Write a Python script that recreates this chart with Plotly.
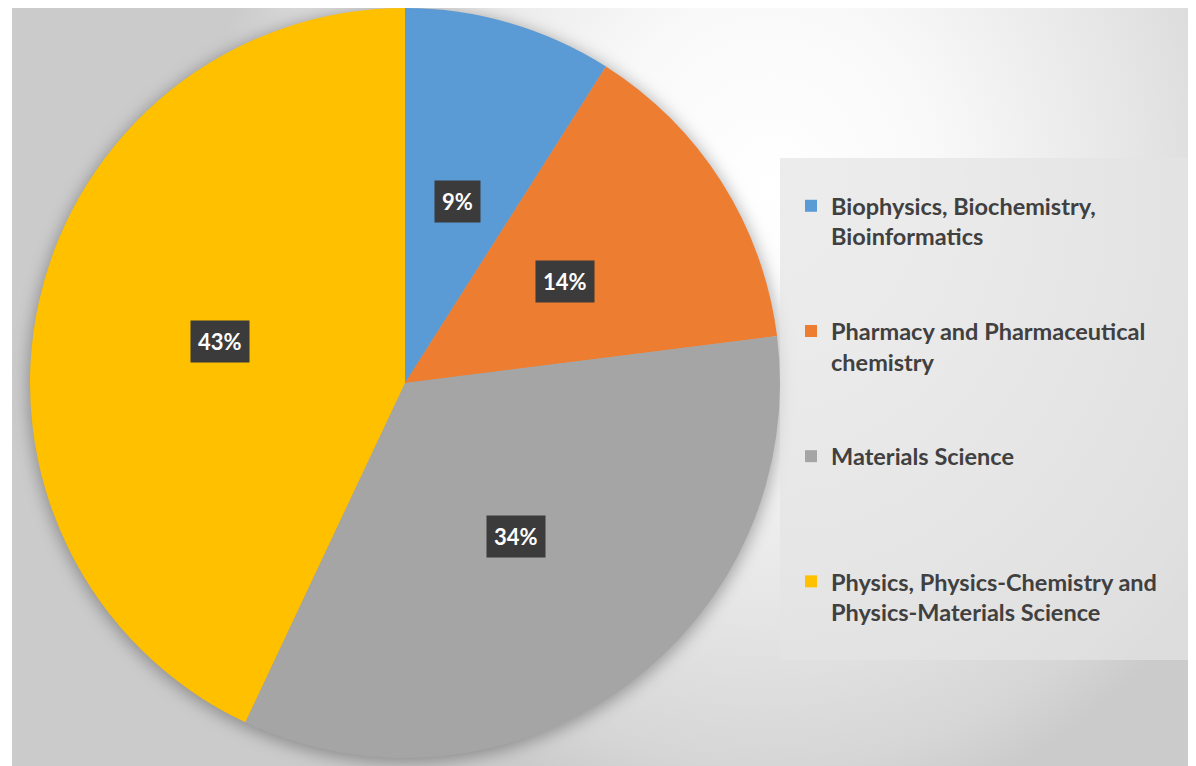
import base64
import math
import plotly.graph_objects as go

# ---- data ----
categories = [
    "Biophysics, Biochemistry,<br>Bioinformatics",
    "Pharmacy and Pharmaceutical<br>chemistry",
    "Materials Science",
    "Physics, Physics-Chemistry and<br>Physics-Materials Science",
]
values = [9, 14, 34, 43]
colors = ["#5B9BD5", "#ED7D31", "#A5A5A5", "#FFC000"]

# page is offset by the 8px body margin; work in page pixels and convert
OFF = 8
PW, PH = 1196, 766
W, H = PW - OFF, PH - OFF


def fx(px):
    return (px - OFF) / W


def fy(py):
    return 1 - (py - OFF) / H


# pie geometry (page pixels); top limited by the page margin
CX, CY, R = 405, 383, 375

# background (elliptical radial gradient + soft pie shadow), decoration only
bx0, by0 = 12, 8
bw, bh = PW - bx0, PH - by0
gcx, gcy = 770 - bx0, 190 - by0
svg = f'''<svg xmlns="http://www.w3.org/2000/svg" width="{bw}" height="{bh}" viewBox="0 0 {bw} {bh}">
<defs>
<radialGradient id="g" gradientUnits="userSpaceOnUse" cx="0" cy="0" r="1" gradientTransform="translate({gcx},{gcy}) scale(560,640)">
<stop offset="0" stop-color="#ffffff"/>
<stop offset="0.3" stop-color="#f9f9f9"/>
<stop offset="0.65" stop-color="#e6e6e6"/>
<stop offset="0.9" stop-color="#d6d6d6"/>
<stop offset="1" stop-color="#cbcbcb"/>
</radialGradient>
<filter id="b" x="-20%" y="-20%" width="140%" height="140%"><feGaussianBlur stdDeviation="8"/></filter>
</defs>
<rect width="{bw}" height="{bh}" fill="url(#g)"/>
<circle cx="{CX-bx0}" cy="{CY-by0+3}" r="{R+2}" fill="rgba(0,0,0,0.30)" filter="url(#b)"/>
</svg>'''
src = "data:image/svg+xml;base64," + base64.b64encode(svg.encode()).decode()

# legend labels: each entry padded to four lines for Excel-like spacing
legend_labels = [c + "<br>&nbsp;" * (4 - (c.count("<br>") + 1)) for c in categories]
clean_names = [c.replace("<br>", " ") for c in categories]

fig = go.Figure()
fig.add_trace(go.Pie(
    labels=legend_labels,
    values=values,
    customdata=clean_names,
    hovertemplate="%{customdata}<br>%{percent}<extra></extra>",
    sort=False,
    direction="clockwise",
    rotation=0,
    marker=dict(colors=colors, line=dict(width=0)),
    textinfo="none",
    domain=dict(x=[fx(CX - R), fx(CX + R)], y=[max(0, fy(CY + R)), min(1, fy(CY - R))]),
))

# percentage labels at half radius on the mid-angle of each slice
total = sum(values)
cum = 0
annotations = []
for v in values:
    mid = (cum + v / 2) / total * 2 * math.pi
    cum += v
    px = CX + 0.505 * R * math.sin(mid)
    py = CY - 0.505 * R * math.cos(mid)
    annotations.append(dict(
        x=fx(px), y=fy(py), xref="paper", yref="paper",
        xanchor="center", yanchor="middle",
        text=f"{round(v / total * 100)}%", showarrow=False,
        font=dict(family="Lato", size=22, color="white", weight="bold"),
        bgcolor="#3b3b3b", borderpad=7,
    ))

fig.update_layout(
    width=W, height=H,
    margin=dict(l=0, r=0, t=0, b=0),
    paper_bgcolor="white",
    images=[dict(source=src, xref="paper", yref="paper", x=fx(bx0), y=fy(by0),
                 sizex=bw / W, sizey=bh / H, sizing="stretch", layer="below",
                 xanchor="left", yanchor="top")],
    shapes=[dict(type="rect", xref="paper", yref="paper", x0=fx(780), x1=1,
                 y0=fy(660), y1=fy(158), fillcolor="rgba(228,228,228,0.7)",
                 line=dict(width=0), layer="below")],
    annotations=annotations,
    showlegend=True,
    legend=dict(
        x=fx(791), y=fy(184), xanchor="left", yanchor="top",
        bgcolor="rgba(0,0,0,0)", valign="top",
        font=dict(family="Lato", size=23.5, color="#404040", weight="bold"),
        traceorder="normal", itemclick=False,
    ),
)

fig.write_html("out.html")
